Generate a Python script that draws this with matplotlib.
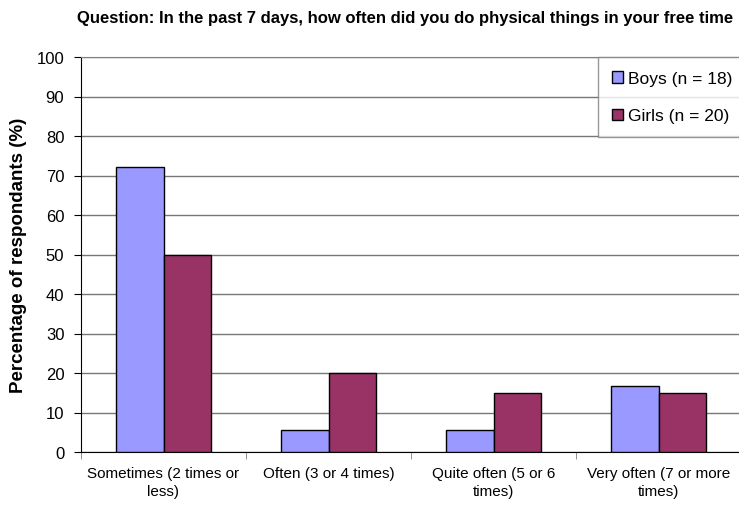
import matplotlib
matplotlib.use("Agg")
import matplotlib.pyplot as plt
import numpy as np

categories = ["Sometimes (2 times or\nless)", "Often (3 or 4 times)",
              "Quite often (5 or 6\ntimes)", "Very often (7 or more\ntimes)"]
boys = [72.2, 5.6, 5.6, 16.7]
girls = [50.0, 20.0, 15.0, 15.0]
series_labels = ["Boys (n = 18)", "Girls (n = 20)"]
yticks = list(range(0, 101, 10))

plt.rcParams['font.family'] = ['Liberation Sans', 'DejaVu Sans']

fig = plt.figure(figsize=(7.39, 5.06), dpi=100)
ax = fig.add_axes([81/739, 53/506, 660/739, 395/506])

x = np.arange(len(categories))
w = 0.29
ax.bar(x - w/2, boys, w, color="#9999FF", edgecolor="black", linewidth=1.0,
       label=series_labels[0], zorder=3)
ax.bar(x + w/2, girls, w, color="#993366", edgecolor="black", linewidth=1.0,
       label=series_labels[1], zorder=3)

ax.set_xlim(-0.5, len(categories) - 0.5)
ax.set_ylim(0, 100)
ax.set_yticks(yticks)
ax.set_yticklabels([str(t) for t in yticks], fontsize=12)
ax.yaxis.grid(True, color="#777777", linewidth=1.0, zorder=0)
ax.set_axisbelow(True)

ax.set_xticks(x)
ax.set_xticklabels(categories, fontsize=11, linespacing=1.35)
ax.tick_params(axis='x', length=0, pad=10)
ax.set_xticks(np.arange(-0.5, len(categories)), minor=True)
ax.tick_params(axis='x', which='minor', length=5, direction='out', color='#808080')
ax.tick_params(axis='y', length=5, direction='out', pad=7)

for s in ["top", "right"]:
    ax.spines[s].set_color("#808080")
ax.spines["left"].set_color("black")
ax.spines["bottom"].set_color("black")

ax.set_ylabel("Percentage of respondants (%)", fontsize=13.5, fontweight="bold", labelpad=7)

leg = ax.legend(loc="upper left", bbox_to_anchor=((598 - 81) / 660, 1.0), fontsize=12.5,
                frameon=True, fancybox=False, edgecolor="#808080",
                borderpad=0.8, labelspacing=1.3, handlelength=0.65,
                handleheight=0.65, handletextpad=0.3, borderaxespad=0)
leg.get_frame().set_linewidth(1.0)
for h in leg.legend_handles:
    h.set_linewidth(1.0)

fig.text(0.548, 0.964, "Question: In the past 7 days, how often did you do physical things in your free time",
         ha="center", va="center", fontsize=12, fontweight="bold")

fig.savefig("out.png", dpi=100)
